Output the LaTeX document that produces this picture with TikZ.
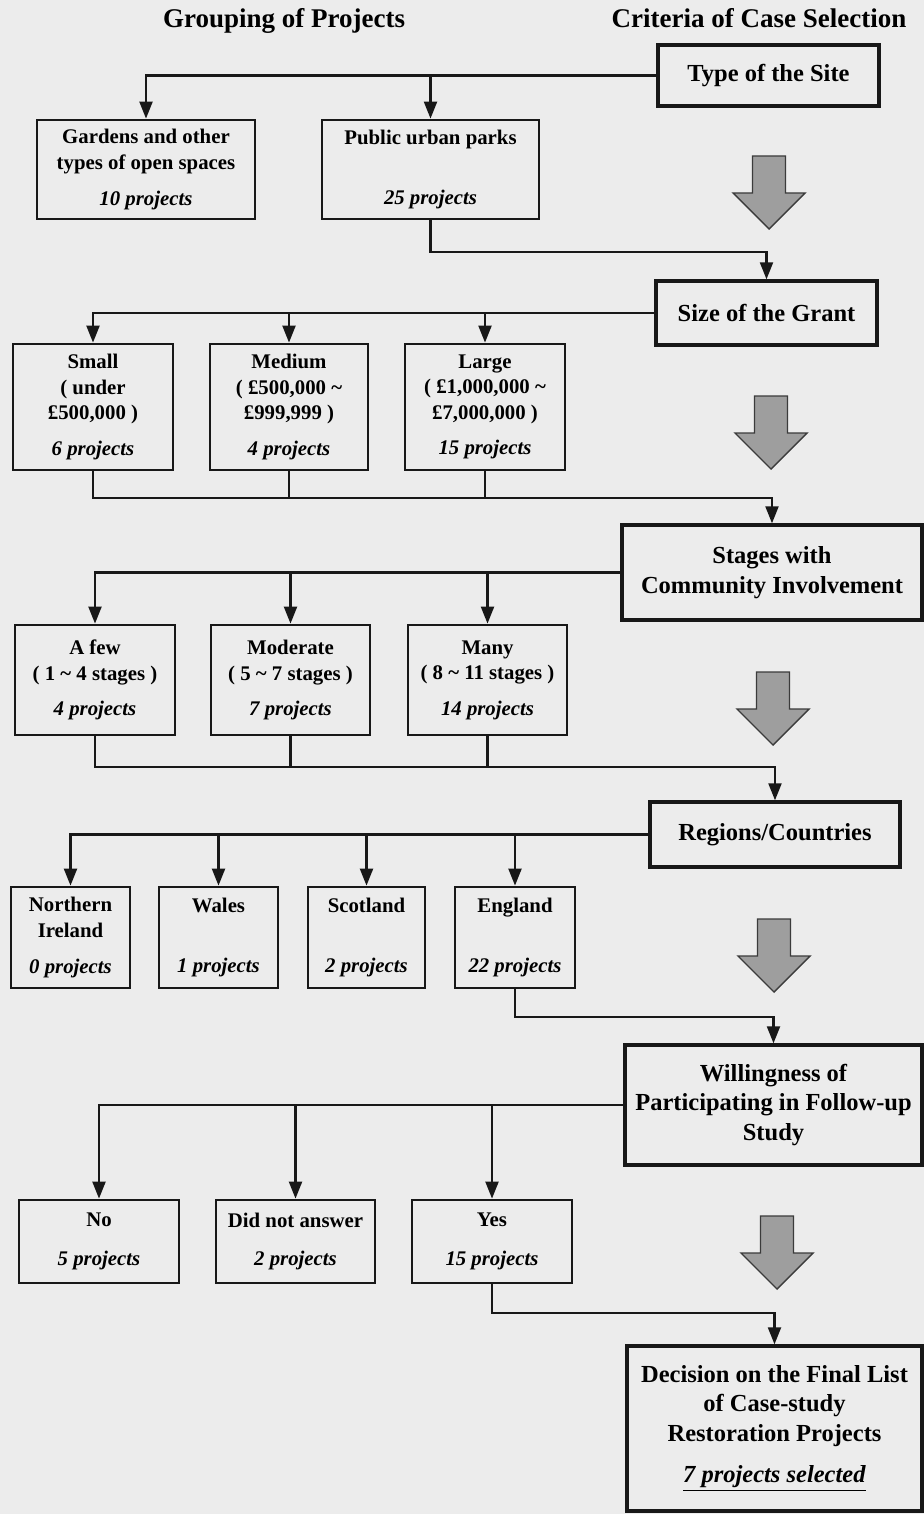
\documentclass[tikz,border=0pt]{standalone}
\usepackage{fontspec}
\setmainfont{Liberation Serif}
\usetikzlibrary{arrows.meta}

\definecolor{paper}{RGB}{236,236,236}
\definecolor{ink}{RGB}{24,24,24}
\definecolor{arrowgray}{RGB}{158,158,158}

\newcommand{\headfont}{\fontsize{13.5pt}{16pt}\selectfont\bfseries}
\newcommand{\grpfont}{\fontsize{10.4pt}{12.8pt}\selectfont\bfseries}
\newcommand{\critfont}{\fontsize{12.25pt}{14.8pt}\selectfont\bfseries}
\newcommand{\nproj}[1]{\textit{#1}}

% broad grey arrow pointing down: centre x, top y (pixel units)
\newcommand{\flowarrow}[2]{%
  \draw[bigarrow] (#1-16.5,#2) -- (#1+16.5,#2) -- (#1+16.5,#2+37)
    -- (#1+36,#2+37) -- (#1,#2+73) -- (#1-36,#2+37) -- (#1-16.5,#2+37) -- cycle;}

\begin{document}
\begin{tikzpicture}[x=0.5pt,y=-0.5pt,
  head/.style={font=\headfont, inner sep=0pt, anchor=base},
  grp/.style={draw=ink, line width=1.4pt, inner sep=0pt, align=center, font=\grpfont},
  crit/.style={draw=ink, line width=1.7pt, inner sep=0pt, align=center, font=\critfont},
  size/.style 2 args={minimum width=#1, minimum height=#2},
  conn/.style={draw=ink, line width=1.1pt, -{Triangle[length=8.5pt,width=6.5pt]}},
  bus/.style={draw=ink, line width=1.1pt},
  bigarrow/.style={fill=arrowgray, draw=ink!85, line width=0.7pt, line join=miter}]

% page
\fill[paper] (0,0) rectangle (924,1514);
\useasboundingbox (0,0) rectangle (924,1514);

% column headings
\node[head] (hleft) at (284,28) {Grouping of Projects};
\node[head] (hright) at (759,28) {Criteria of Case Selection};

% selection criteria
\node[crit, size={110.5pt}{30.5pt}] (site) at (768.5,75.5) {Type of the Site};
\node[crit, size={110.5pt}{32pt}] (grant) at (766.5,313) {Size of the Grant};
\node[crit, size={150pt}{47.5pt}] (stages) at (772,572.5) {Stages with\\Community Involvement};
\node[crit, size={125pt}{32.5pt}] (regions) at (775,834.5) {Regions/Countries};
\node[crit, size={148.5pt}{60pt}] (will) at (773.5,1105) {Willingness of\\Participating in Follow-up\\Study};
\node[crit, size={147.5pt}{82.5pt}] (decision) at (774.5,1428.5) {Decision on the Final List\\of Case-study\\Restoration Projects\\[6pt]\underline{\nproj{7 projects selected}}};

% groups: type of site
\node[grp, size={109pt}{49.5pt}] (garden) at (146,169.5) {Gardens and other\\types of open spaces\\[5pt]\nproj{10 projects}};
\node[grp, size={108.5pt}{49.5pt}] (public) at (430.5,169.5) {Public urban parks\\[17pt]\nproj{25 projects}};

% groups: size of grant
\node[grp, size={80pt}{63pt}] (small) at (93,407) {Small\\( under\\£500,000 )\\[5pt]\nproj{6 projects}};
\node[grp, size={79pt}{63pt}] (medium) at (289,407) {Medium\\( £500,000 \textasciitilde\\£999,999 )\\[5pt]\nproj{4 projects}};
\node[grp, size={80pt}{63pt}] (large) at (485,407) {Large\\( £1,000,000 \textasciitilde\\£7,000,000 )\\[5pt]\nproj{15 projects}};

% groups: community involvement
\node[grp, size={80pt}{55pt}] (afew) at (95,680) {A few\\( 1 \textasciitilde{} 4 stages )\\[5pt]\nproj{4 projects}};
\node[grp, size={79.5pt}{55pt}] (moderate) at (290.5,680) {Moderate\\( 5 \textasciitilde{} 7 stages )\\[5pt]\nproj{7 projects}};
\node[grp, size={79.5pt}{55pt}] (many) at (487.5,680) {Many\\( 8 \textasciitilde{} 11 stages )\\[5pt]\nproj{14 projects}};

% groups: regions
\node[grp, size={59.5pt}{50.5pt}] (ni) at (70.5,937.5) {Northern\\Ireland\\[5pt]\nproj{0 projects}};
\node[grp, size={59.5pt}{50.5pt}] (wales) at (218.5,937.5) {Wales\\[17pt]\nproj{1 projects}};
\node[grp, size={58.5pt}{50.5pt}] (scot) at (366.5,937.5) {Scotland\\[17pt]\nproj{2 projects}};
\node[grp, size={60pt}{50.5pt}] (eng) at (515,937.5) {England\\[17pt]\nproj{22 projects}};

% groups: willingness
\node[grp, size={80pt}{41.5pt}] (no) at (99,1241.5) {No\\[6.5pt]\nproj{5 projects}};
\node[grp, size={79.5pt}{41.5pt}] (dna) at (295.5,1241.5) {Did not answer\\[6.5pt]\nproj{2 projects}};
\node[grp, size={80pt}{41.5pt}] (yes) at (492,1241.5) {Yes\\[6.5pt]\nproj{15 projects}};

% junction levels of the feed-back lines
\coordinate (j1) at (600,252);
\coordinate (j2) at (600,498);
\coordinate (j3) at (600,767);
\coordinate (j4) at (600,1017);
\coordinate (j5) at (600,1313);

% type of the site
\draw[conn] (site.west) -| (garden.north);
\draw[conn] (public.north |- site.west) -- (public.north);
\draw[conn] (public.south) |- (j1) -| (grant.north);

% size of the grant
\draw[conn] (grant.west) -| (small.north);
\draw[conn] (medium.north |- grant.west) -- (medium.north);
\draw[conn] (large.north |- grant.west) -- (large.north);
\draw[conn] (small.south) |- (j2) -| (stages.north);
\draw[bus] (medium.south) -- (medium.south |- j2);
\draw[bus] (large.south) -- (large.south |- j2);

% community involvement
\draw[conn] (stages.west) -| (afew.north);
\draw[conn] (moderate.north |- stages.west) -- (moderate.north);
\draw[conn] (many.north |- stages.west) -- (many.north);
\draw[conn] (afew.south) |- (j3) -| (regions.north);
\draw[bus] (moderate.south) -- (moderate.south |- j3);
\draw[bus] (many.south) -- (many.south |- j3);

% regions
\draw[conn] (regions.west) -| (ni.north);
\draw[conn] (wales.north |- regions.west) -- (wales.north);
\draw[conn] (scot.north |- regions.west) -- (scot.north);
\draw[conn] (eng.north |- regions.west) -- (eng.north);
\draw[conn] (eng.south) |- (j4) -| (will.north);

% willingness
\draw[conn] (will.west) -| (no.north);
\draw[conn] (dna.north |- will.west) -- (dna.north);
\draw[conn] (yes.north |- will.west) -- (yes.north);
\draw[conn] (yes.south) |- (j5) -| (decision.north);

% broad arrows between the criteria
\flowarrow{769}{156}
\flowarrow{771}{396}
\flowarrow{773}{672}
\flowarrow{774}{919}
\flowarrow{777}{1216}

\end{tikzpicture}
\end{document}
